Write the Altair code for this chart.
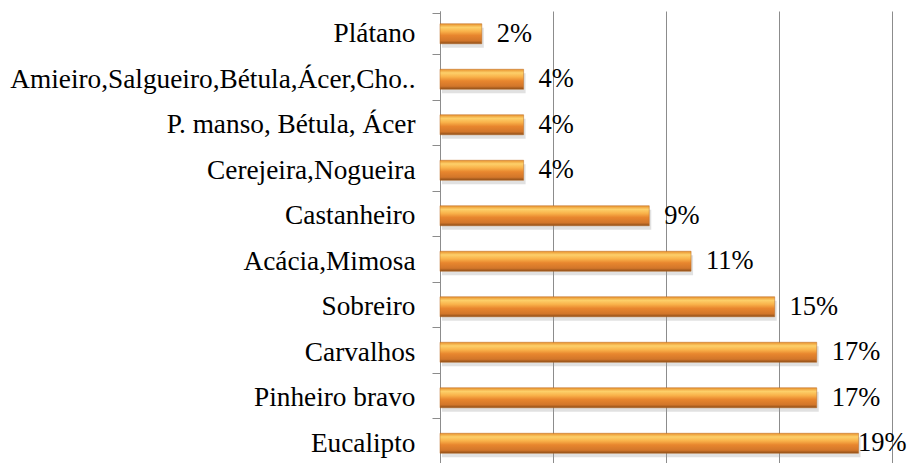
import altair as alt
import pandas as pd

categories = ["Plátano", "Amieiro,Salgueiro,Bétula,Ácer,Cho..", "P. manso, Bétula, Ácer",
              "Cerejeira,Nogueira", "Castanheiro", "Acácia,Mimosa", "Sobreiro",
              "Carvalhos", "Pinheiro bravo", "Eucalipto"]
values = [1.85, 3.70, 3.70, 3.70, 9.26, 11.11, 14.81, 16.67, 16.67, 18.52]
labels = ["2%", "4%", "4%", "4%", "9%", "11%", "15%", "17%", "17%", "19%"]

df = pd.DataFrame({"cat": categories, "v": values, "lab": labels})

FONT = "Liberation Serif"
GRAY = "#8c8c8c"

y_enc = alt.Y("cat:N", sort=categories, title=None,
              axis=alt.Axis(labelFont=FONT, labelFontSize=27.3, labelColor="black",
                            tickSize=8, tickColor=GRAY, domainColor=GRAY,
                            labelPadding=17, tickBand="extent", labelLimit=600,
                            grid=False))
x_scale = alt.Scale(domain=[0, 20], nice=False)
x_axis = alt.Axis(values=[0, 5, 10, 15, 20], labels=False, ticks=False, domain=False,
                  grid=True, gridColor=GRAY, gridWidth=1, title=None)

grad = alt.Gradient(
    gradient="linear", x1=0, x2=0, y1=0, y2=1,
    stops=[
        alt.GradientStop(color="#e8902c", offset=0),
        alt.GradientStop(color="#fdd06a", offset=0.18),
        alt.GradientStop(color="#f9b24a", offset=0.38),
        alt.GradientStop(color="#e8862e", offset=0.58),
        alt.GradientStop(color="#d2762a", offset=0.85),
        alt.GradientStop(color="#8a4c18", offset=1),
    ],
)

base = alt.Chart(df)

shadow = base.mark_bar(size=20, color="#9a9a9a", opacity=0.3, yOffset=4, xOffset=2).encode(
    x=alt.X("v:Q", scale=x_scale, axis=x_axis),
    y=y_enc,
)

bars = base.mark_bar(size=20, fill=grad, stroke="#b86a22", strokeWidth=0.5).encode(
    x=alt.X("v:Q", scale=x_scale, axis=x_axis),
    y=y_enc,
)

text = base.transform_calculate(
    lx="min(datum.v + 0.66, 18.5)"
).mark_text(align="left", baseline="middle", font=FONT, fontSize=26.5, color="black").encode(
    x=alt.X("lx:Q", scale=x_scale, axis=x_axis),
    y=y_enc,
    text="lab:N",
)

chart = alt.layer(shadow, bars, text).properties(
    width=452, height=455,
    autosize=alt.AutoSizeParams(type="none"),
    padding={"left": 432, "top": 3, "right": 15, "bottom": 0},
    background="white",
).configure_view(stroke=None)

chart.save("out.html", embed_options={"renderer": "svg", "actions": False})
